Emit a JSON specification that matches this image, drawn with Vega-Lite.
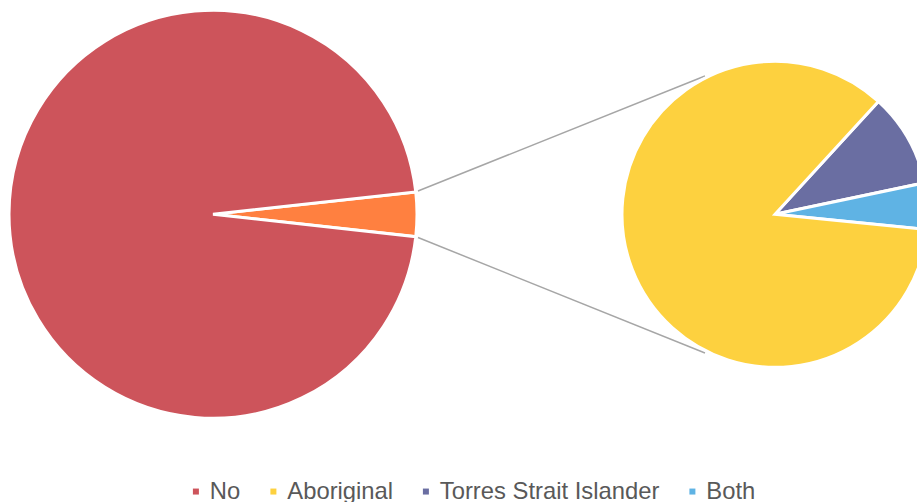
{
  "$schema": "https://vega.github.io/schema/vega-lite/v6.json",
  "width": 917,
  "height": 502,
  "padding": 0,
  "autosize": {"type": "none"},
  "background": "white",
  "config": {"view": {"stroke": null}, "font": "Liberation Sans"},
  "datasets": {
    "main": [
      {"category": "Other", "value": 3.5, "ord": 1},
      {"category": "No", "value": 96.5, "ord": 2}
    ],
    "split": [
      {"category": "Torres Strait Islander", "value": 9.9, "ord": 1},
      {"category": "Both", "value": 4.9, "ord": 2},
      {"category": "Aboriginal", "value": 85.3, "ord": 3}
    ]
  },
  "layer": [
    {
      "data": {"values": [{}]},
      "mark": {"type": "rule", "color": "#A6A6A6", "strokeWidth": 1.5},
      "encoding": {
        "x": {"datum": 418, "type": "quantitative", "scale": {"domain": [0, 917]}, "axis": null},
        "y": {"datum": 191, "type": "quantitative", "scale": {"domain": [0, 502], "reverse": true}, "axis": null},
        "x2": {"datum": 705},
        "y2": {"datum": 76}
      }
    },
    {
      "data": {"values": [{}]},
      "mark": {"type": "rule", "color": "#A6A6A6", "strokeWidth": 1.5},
      "encoding": {
        "x": {"datum": 418, "type": "quantitative", "scale": {"domain": [0, 917]}, "axis": null},
        "y": {"datum": 237.5, "type": "quantitative", "scale": {"domain": [0, 502], "reverse": true}, "axis": null},
        "x2": {"datum": 705},
        "y2": {"datum": 353}
      }
    },
    {
      "data": {"name": "main"},
      "mark": {"type": "arc", "outerRadius": 204, "stroke": "white", "strokeWidth": 3},
      "encoding": {
        "x": {"datum": 213, "type": "quantitative", "scale": {"domain": [0, 917]}, "axis": null},
        "y": {"datum": 214.3, "type": "quantitative", "scale": {"domain": [0, 502], "reverse": true}, "axis": null},
        "theta": {"field": "value", "type": "quantitative", "stack": true, "scale": {"range": [1.4608, 7.744]}},
        "order": {"field": "ord", "type": "quantitative"},
        "color": {
          "field": "category", "type": "nominal",
          "condition": {"test": "datum.category === 'Other'", "value": "#FF8040"},
          "scale": {"domain": ["No", "Aboriginal", "Torres Strait Islander", "Both"], "range": ["#CD545B", "#FDD13F", "#6A6EA2", "#5FB3E4"]},
          "legend": {
            "title": null, "orient": "none", "legendX": 184, "legendY": 479.5, "direction": "horizontal",
            "symbolType": "square", "symbolSize": 36, "symbolStrokeWidth": 0,
            "labelFontSize": 23.8, "labelFont": "Liberation Sans", "labelColor": "#595959", "labelLimit": 500,
            "labelOffset": 2, "columnPadding": 20.5, "padding": 0
          }
        }
      }
    },
    {
      "data": {"name": "split"},
      "mark": {"type": "arc", "outerRadius": 153, "stroke": "white", "strokeWidth": 3},
      "encoding": {
        "x": {"datum": 775, "type": "quantitative", "scale": {"domain": [0, 917]}, "axis": null},
        "y": {"datum": 214.3, "type": "quantitative", "scale": {"domain": [0, 502], "reverse": true}, "axis": null},
        "theta": {"field": "value", "type": "quantitative", "stack": true, "scale": {"range": [0.7418, 7.025]}},
        "order": {"field": "ord", "type": "quantitative"},
        "color": {"field": "category", "type": "nominal"}
      }
    }
  ],
  "resolve": {"scale": {"theta": "independent"}}
}
